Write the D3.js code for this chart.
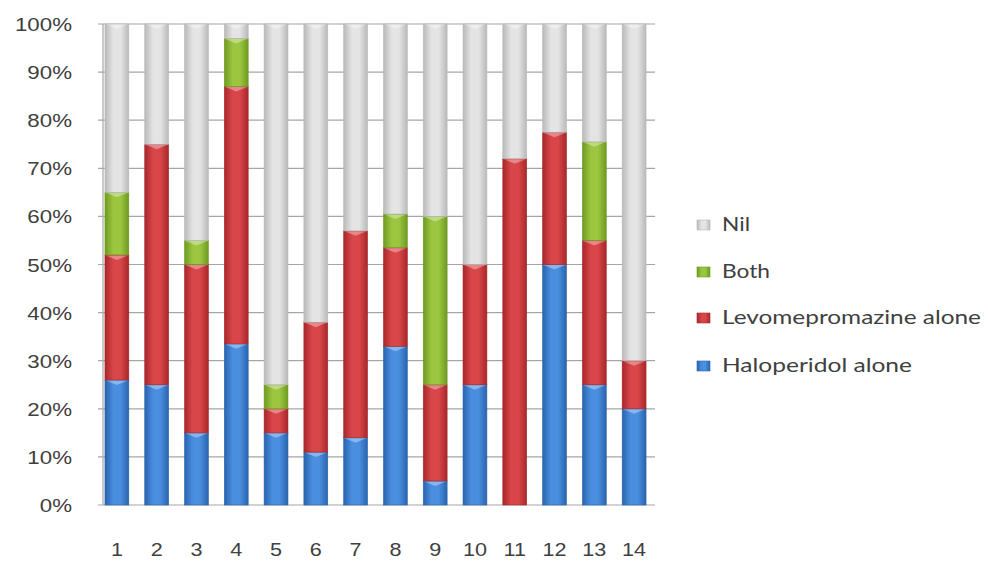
<!DOCTYPE html>
<html><head><meta charset="utf-8">
<script src="https://cdn.jsdelivr.net/npm/d3@7"></script>
<style>body{margin:0;background:#fff}svg{display:block}</style>
</head><body><svg id="c" width="988" height="561"></svg>
<script>
const categories = ["1","2","3","4","5","6","7","8","9","10","11","12","13","14"];
const haloperidol = [26,25,15,33.5,15,11,14,33,5,25,0,50,25,20];
const levomepromazine = [26,50,35,53.5,5,27,43,20.5,20,25,72,27.5,30,10];
const both = [13,0,5,10,5,0,0,7,35,0,0,0,20.5,0];
const nil = [35,25,45,3,75,62,43,39.5,40,50,28,22.5,24.5,70];
const seriesNames = ["Haloperidol alone","Levomepromazine alone","Both","Nil"];
const yTicks = [0,10,20,30,40,50,60,70,80,90,100];

const colors = {
  "Haloperidol alone": ["#2a64ad","#4a8ee0"],
  "Levomepromazine alone": ["#a8272a","#d8464a"],
  "Both": ["#6f9a22","#9cc63f"],
  "Nil": ["#b9b9b9","#e4e4e4"]
};

const svg = d3.select("#c");
const defs = svg.append("defs");
seriesNames.forEach((s,i)=>{
  const g = defs.append("linearGradient").attr("id","g"+i).attr("x1","0").attr("x2","1").attr("y1","0").attr("y2","0");
  g.append("stop").attr("offset","0%").attr("stop-color",colors[s][0]);
  g.append("stop").attr("offset","35%").attr("stop-color",colors[s][1]);
  g.append("stop").attr("offset","65%").attr("stop-color",colors[s][1]);
  g.append("stop").attr("offset","100%").attr("stop-color",colors[s][0]);
});

const x = d3.scaleBand().domain(categories).range([97,654]).paddingInner(0.4).paddingOuter(0.2);
const y = d3.scaleLinear().domain([0,100]).range([505,24]);

// gridlines
svg.append("g").selectAll("line").data(yTicks).join("line")
  .attr("x1",98).attr("x2",655).attr("y1",d=>y(d)).attr("y2",d=>y(d))
  .attr("stroke","#a6a6a6").attr("stroke-width",1.2);
// axis line
svg.append("line").attr("x1",103).attr("x2",103).attr("y1",y(0)).attr("y2",y(100)).attr("stroke","#a6a6a6").attr("stroke-width",1.2);

const data = categories.map((c,i)=>({cat:c, "Haloperidol alone":haloperidol[i], "Levomepromazine alone":levomepromazine[i], "Both":both[i], "Nil":nil[i]}));
const stack = d3.stack().keys(seriesNames)(data);

const bw = x.bandwidth();
stack.forEach((layer,si)=>{
  const g = svg.append("g");
  layer.forEach(d=>{
    const v = d[1]-d[0];
    if (v<=0) return;
    const x0 = x(d.data.cat), y0 = y(d[1]), h = y(d[0])-y(d[1]);
    g.append("rect").attr("x",x0).attr("y",y0).attr("width",bw).attr("height",h)
      .attr("fill","url(#g"+si+")").attr("stroke",colors[seriesNames[si]][0]).attr("stroke-width",0.6);
    const th = Math.min(5,h);
    g.append("path").attr("d",`M${x0+1},${y0+0.5}L${x0+bw-1},${y0+0.5}L${x0+bw/2},${y0+th}Z`)
      .attr("fill","#ffffff").attr("opacity",0.35);
  });
});

const font = "Liberation Sans, Arial, sans-serif";
// y labels
svg.append("g").selectAll("text").data(yTicks).join("text")
  .attr("transform",d=>`translate(72,${y(d)+7}) scale(1.24,1)`).attr("text-anchor","end")
  .attr("font-family",font).attr("font-size",18).attr("fill","#404040")
  .text(d=>d+"%");
// x labels
svg.append("g").selectAll("text").data(categories).join("text")
  .attr("transform",d=>`translate(${x(d)+bw/2},556) scale(1.2,1)`).attr("text-anchor","middle")
  .attr("font-family",font).attr("font-size",18).attr("fill","#404040")
  .text(d=>d);

// legend
const legendOrder = ["Nil","Both","Levomepromazine alone","Haloperidol alone"];
const legendWidths = [28,48,259,190];
const ly = [231,278,324,372];
legendOrder.forEach((s,i)=>{
  const si = seriesNames.indexOf(s);
  svg.append("rect").attr("x",697).attr("y",ly[i]-11).attr("width",13).attr("height",10)
    .attr("fill","url(#g"+si+")").attr("stroke",colors[s][0]).attr("stroke-width",0.6);
  svg.append("text").attr("x",722).attr("y",ly[i])
    .attr("font-family","Lato, Open Sans, sans-serif").attr("font-size",20).attr("fill","#404040")
    .attr("textLength",legendWidths[i]).attr("lengthAdjust","spacingAndGlyphs")
    .text(s);
});
</script></body></html>
